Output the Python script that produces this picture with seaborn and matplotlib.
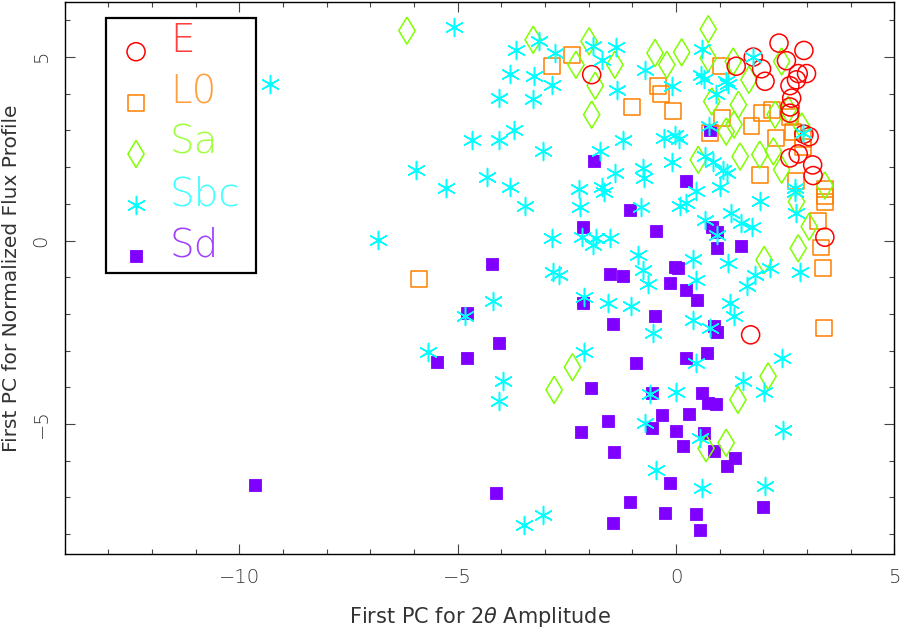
import numpy as np
import pandas as pd
import matplotlib
matplotlib.use("Agg")
import matplotlib.pyplot as plt
import seaborn as sns
from matplotlib.ticker import MultipleLocator
from matplotlib.patches import Rectangle

# ---------------- data ----------------
class_names = ["E", "L0", "Sa", "Sbc", "Sd"]

E_x = [-1.93, 1.38, 1.77, 1.96, 2.04, 2.36, 2.53, 2.93, 2.80, 2.99, 2.76, 2.61,
       2.65, 2.61, 2.61, 2.93, 3.05, 2.61, 2.80, 3.13, 3.14, 3.41, 1.71]
E_y = [4.52, 4.75, 5.00, 4.68, 4.34, 5.38, 4.90, 5.18, 4.55, 4.55, 4.38, 4.22,
       3.88, 3.64, 3.47, 2.90, 2.83, 2.25, 2.36, 2.06, 1.77, 0.09, -2.57]

L0_x = [-5.88, -2.83, -2.37, -1.01, -0.42, -0.34, -0.06, 1.03, 1.05, 0.78, 1.96,
        1.73, 2.21, 2.28, 2.61, 2.69, 2.90, 2.92, 1.92, 2.75, 3.41, 3.41, 3.41,
        3.26, 3.32, 3.36, 3.39]
L0_y = [-1.05, 4.75, 5.05, 3.64, 4.22, 3.99, 3.54, 4.75, 3.34, 2.93, 3.47,
        3.11, 3.56, 2.79, 3.37, 2.95, 2.77, 2.56, 1.79, 1.61, 1.40, 1.20, 1.04,
        0.52, -0.19, -0.75, -2.39]

Sa_x = [-6.16, -3.27, -2.29, -1.99, -1.85, -1.93, -1.40, -0.48, -0.21, 0.13,
        0.74, 0.74, 1.31, 0.82, 1.43, 1.15, 1.33, 0.51, 1.47, 1.67, 2.42, 2.27,
        2.57, 2.88, 1.92, 2.23, 2.42, 3.41, 2.76, 3.05, 2.80, 2.02, 2.11, 1.42,
        0.69, 1.15, -2.37, -2.79]
Sa_y = [5.72, 5.47, 4.79, 5.43, 4.22, 3.43, 4.79, 5.11, 4.79, 5.13,
        5.76, 4.97, 4.88, 3.79, 3.70, 2.97, 3.16, 2.20, 2.29, 4.38, 4.88, 3.43,
        3.56, 3.11, 2.34, 2.43, 1.93, 1.50, 1.06, 0.38, -0.21, -0.53, -3.70, -4.34,
        -5.66, -5.51, -3.45, -4.07]

Sbc_x = [-9.30, -6.82, -5.95, -5.68, -5.08, -5.27, -4.68, -4.32, -4.83, -4.20,
         -4.05, -4.05, -3.95, -4.05, -3.79, -3.66, -3.72, -3.79, -3.46, -3.48,
         -3.04, -3.13, -3.25, -3.28, -3.04, -2.77, -2.85, -2.85, -2.82, -2.67,
         -2.21, -2.20, -2.16, -2.11, -2.11, -1.89, -1.37, -1.70, -0.71, 0.59,
         0.58, 0.64, 1.15, 1.20, -0.10, -1.36, 0.92, 0.76, -1.22, -0.27,
         -0.02, 0.08, -1.74, -0.10, 0.66, 0.84, -1.40, -0.75, -0.73, 1.07,
         1.18, 1.01, -1.70, -1.65, 0.47, -0.79, 0.09, 0.24, 0.66, 1.27,
         1.50, 0.93, -1.82, -1.51, -1.89, -0.86, 0.40, 1.20, -0.75, -0.63,
         0.47, 1.62, -1.55, -1.04, 1.24, 1.33, 0.40, 0.79, -0.53, 0.46,
         -0.60, 0.00, -0.71, 0.55, -0.46, 0.59, 1.77, 2.92, 2.72, 1.92,
         2.72, 2.76, 1.73, 2.15, 1.81, 2.84, 2.42, 1.54, 2.02, 2.44, 2.04]
Sbc_y = [4.27, 0.02, 1.93, -3.03, 5.82, 1.43, 2.73, 1.73, -2.05, -1.66,
         3.88, 2.75, -3.84, -4.36, 4.55, 5.18, 3.00, 1.47, 0.95, -7.75,
         -7.48, 5.43, 4.49, 3.86, 2.43, 5.11, 4.25, 0.07, -0.87, -0.94,
         1.40, 0.91, 0.09, -1.54, -3.03, 5.29, 5.27, 4.91, 4.64, 5.22,
         4.50, 4.40, 4.34, 4.27, 4.22, 4.09, 4.00, 3.13, 2.75, 2.79,
         2.88, 2.77, 2.45, 2.13, 2.29, 2.15, 1.85, 1.97, 1.70, 1.93,
         1.85, 1.45, 1.47, 1.32, 1.36, 0.91, 0.93, 1.02, 0.56, 0.75,
         0.47, 0.16, 0.07, 0.07, -0.12, -0.39, -0.51, -0.62, -0.80, -1.18,
         -1.07, -1.24, -1.71, -1.78, -1.71, -2.07, -2.16, -2.39, -2.53, -3.34,
         -4.18, -4.14, -4.98, -5.39, -6.25, -6.73, 5.00, 2.93, 1.43, 1.09,
         1.33, 0.75, 0.38, -0.75, -0.94, -0.85, -3.21, -3.84, -4.12, -5.16, -6.69]

Sd_x = [-9.64, -5.47, -4.78, -4.79, -4.21, -4.05, -4.11, -2.14, -2.14, -1.95,
        -2.18, -1.88, 0.78, 0.24, -1.05, -0.46, 0.82, 0.93, 0.95, 1.50,
        -1.51, -1.22, -0.03, 0.05, -0.14, 0.23, 0.49, -0.48, -1.44, 0.87,
        0.93, 0.72, 0.23, -0.92, -0.56, 0.59, 0.74, 0.92, -0.33, 0.30,
        -1.55, -0.56, 0.00, 0.64, 0.17, 0.87, -1.42, 1.35, 1.17, -0.14,
        -1.05, -0.25, 0.46, -1.45, 0.55, 2.00]
Sd_y = [-6.66, -3.30, -3.21, -1.98, -0.64, -2.80, -6.89, 0.36, -1.69, -4.03,
        -5.21, 2.18, 3.02, 1.63, 0.82, 0.25, 0.38, 0.22, -0.19, -0.14,
        -0.91, -0.98, -0.72, -0.74, -1.16, -1.34, -1.62, -2.05, -2.27, -2.34,
        -2.48, -3.07, -3.21, -3.34, -4.16, -4.16, -4.42, -4.45, -4.75, -4.73,
        -4.91, -5.12, -5.18, -5.24, -5.60, -5.73, -5.75, -5.93, -6.14, -6.60,
        -7.12, -7.42, -7.45, -7.71, -7.89, -7.27]

x_ticks = [-10, -5, 0, 5]
y_ticks = [-5, 0, 5]

# ---------------- styling ----------------
sns.set_style("ticks")
plt.rcParams['font.family'] = ['DejaVu Sans']
plt.rcParams['font.weight'] = 'light'
plt.rcParams['mathtext.fontset'] = 'dejavusans'

thin_diamond = [(0, 1), (0.6, 0), (0, -1), (-0.6, 0), (0, 1)]

styles = {
    "E":   dict(marker="o", color="#ff0000", s=13.0**2, kind="open", z=5),
    "L0":  dict(marker="s", color="#ff8000", s=11.5**2, kind="open", z=3),
    "Sa":  dict(marker=thin_diamond, color="#80ff00", s=19.5**2, kind="open", z=4),
    "Sbc": dict(marker=(6, 2, 0), color="#00ffff", s=13.0**2, kind="line", z=6),
    "Sd":  dict(marker="s", color="#8000ff", s=8.0**2, kind="filled", z=2),
}
data = {
    "E": (E_x, E_y), "L0": (L0_x, L0_y), "Sa": (Sa_x, Sa_y),
    "Sbc": (Sbc_x, Sbc_y), "Sd": (Sd_x, Sd_y),
}


def marker_kws(st):
    if st["kind"] == "filled":
        return dict(color=st["color"], edgecolor=st["color"], linewidth=0.6)
    if st["kind"] == "line":
        return dict(color=st["color"], linewidth=1.1)
    return dict(color=st["color"], facecolor="none", edgecolor=st["color"], linewidth=1.1)


fig = plt.figure(figsize=(9, 6.28), dpi=100)
ax = fig.add_axes([64.6 / 900, 1 - 554.3 / 628, (894.3 - 64.6) / 900, (554.3 - 2) / 628])

for name in class_names:
    st = styles[name]
    xs, ys = data[name]
    df = pd.DataFrame({"x": xs, "y": ys})
    sns.scatterplot(data=df, x="x", y="y", ax=ax, marker=st["marker"], s=st["s"],
                    zorder=st["z"], legend=False, **marker_kws(st))

ax.set_xlim(-14, 5)
ax.set_ylim(-8.55, 6.5)
ax.xaxis.set_major_locator(MultipleLocator(5))
ax.xaxis.set_minor_locator(MultipleLocator(1))
ax.yaxis.set_major_locator(MultipleLocator(5))
ax.yaxis.set_minor_locator(MultipleLocator(1))
ax.set_xticks(x_ticks)
ax.set_yticks(y_ticks)
ax.set_xticklabels(["\u221210", "\u22125", "0", "5"])
ax.set_yticklabels(["\u22125", "0", "5"])

ax.tick_params(which="both", direction="in", top=True, right=True,
               color="#444444", width=0.8, labelsize=14, labelcolor="#333333")
ax.tick_params(which="major", length=7.2, pad=10)
ax.tick_params(which="minor", length=3.6)
ax.tick_params(axis="y", labelrotation=90)
for lbl in ax.get_yticklabels():
    lbl.set_va("center")

for sp in ax.spines.values():
    sp.set_color("black")
    sp.set_linewidth(1.0)

ax.set_xlabel("First PC for 2$\\theta$ Amplitude", fontsize=15, color="#333333")
ax.xaxis.set_label_coords(0.5, -0.1135)
ax.xaxis.label.set_va("center")
ax.set_ylabel("First PC for Normalized Flux Profile", fontsize=14.5, color="#333333")
ax.yaxis.set_label_coords(-0.0635, 0.5)
ax.yaxis.label.set_va("center")

# ---------------- legend box ----------------
ax.add_patch(Rectangle((0.0499, 0.5099), 0.1804, 0.4606, transform=ax.transAxes,
                       fill=False, lw=1.6, ec="black", zorder=10))
leg_y = [0.910, 0.8171, 0.7248, 0.6324, 0.5401]
for name, yy in zip(class_names, leg_y):
    st = styles[name]
    ax.scatter([0.0861], [yy], transform=ax.transAxes, marker=st["marker"], s=st["s"],
               zorder=11, clip_on=False, **marker_kws(st))
    ax.text(0.127, yy, name, transform=ax.transAxes, fontsize=28, color=st["color"],
            alpha=0.75, ha="left", va="baseline", zorder=11)

fig.savefig("out.png", dpi=100)
